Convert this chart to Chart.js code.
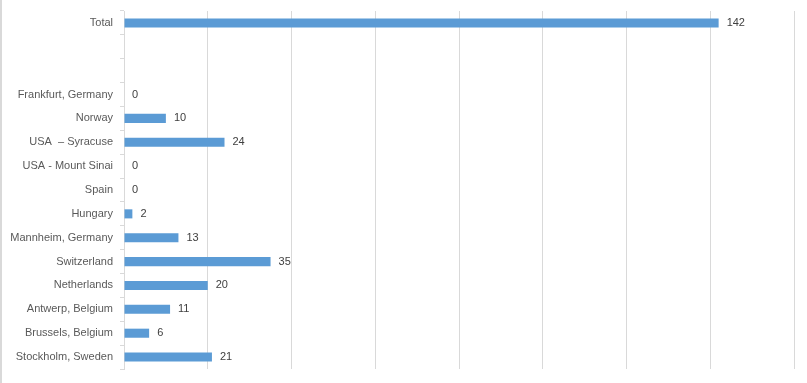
<!DOCTYPE html>
<html>
<head>
<meta charset="utf-8">
<script src="https://cdn.jsdelivr.net/npm/chart.js@4/dist/chart.umd.min.js"></script>
<style>
html,body{margin:0;padding:0;background:#fff;}
#wrap{position:relative;width:807px;height:383px;box-sizing:border-box;border-left:2px solid #d9d9d9;}
</style>
</head>
<body>
<div id="wrap"><canvas id="c" width="805" height="383"></canvas></div>
<script>
const categories = ["Total", "", " ", "Frankfurt, Germany", "Norway", "USA  \u2013 Syracuse", "USA - Mount Sinai", "Spain", "Hungary", "Mannheim, Germany", "Switzerland", "Netherlands", "Antwerp, Belgium", "Brussels, Belgium", "Stockholm, Sweden"];
const values = [142, null, null, 0, 10, 24, 0, 0, 2, 13, 35, 20, 11, 6, 21];
const axisMin = 0, axisMax = 160, axisStep = 20;

const labelPlugin = {
  id: 'valLabels',
  afterDatasetsDraw(chart) {
    const ctx = chart.ctx;
    const meta = chart.getDatasetMeta(0);
    ctx.save();
    ctx.font = '11px "Liberation Sans", Arial, sans-serif';
    ctx.fillStyle = '#404040';
    ctx.textAlign = 'left';
    ctx.textBaseline = 'middle';
    meta.data.forEach((bar, i) => {
      const v = values[i];
      if (v === null || v === undefined) return;
      ctx.fillText(String(v), bar.x + 8, bar.y);
    });
    ctx.restore();
  }
};

new Chart(document.getElementById('c'), {
  type: 'bar',
  data: {
    labels: categories,
    datasets: [{
      data: values,
      backgroundColor: '#5B9BD5',
      borderWidth: 0,
      categoryPercentage: 1,
      barPercentage: 0.38
    }]
  },
  options: {
    indexAxis: 'y',
    responsive: false,
    animation: false,
    devicePixelRatio: 1,
    layout: { padding: { left: 0, right: 13, top: 11, bottom: 14 } },
    plugins: { legend: { display: false }, tooltip: { enabled: false } },
    scales: {
      x: {
        min: axisMin, max: axisMax,
        ticks: { display: false, stepSize: axisStep },
        grid: { color: '#d9d9d9', drawTicks: false, lineWidth: 1 },
        border: { display: false },
        afterFit(scale) { scale.paddingLeft = 0; scale.paddingRight = 0; }
      },
      y: {
        afterFit(scale) { scale.width = 122; scale.paddingTop = 0; scale.paddingBottom = 0; },
        ticks: {
          color: '#595959',
          font: { family: '"Liberation Sans", Arial, sans-serif', size: 11 },
          padding: 7,
          autoSkip: false
        },
        grid: { display: true, drawOnChartArea: false, drawTicks: true, tickLength: 4, color: '#d9d9d9', offset: true },
        border: { display: true, color: '#d9d9d9' }
      }
    }
  },
  plugins: [labelPlugin]
});
</script>
</body>
</html>
